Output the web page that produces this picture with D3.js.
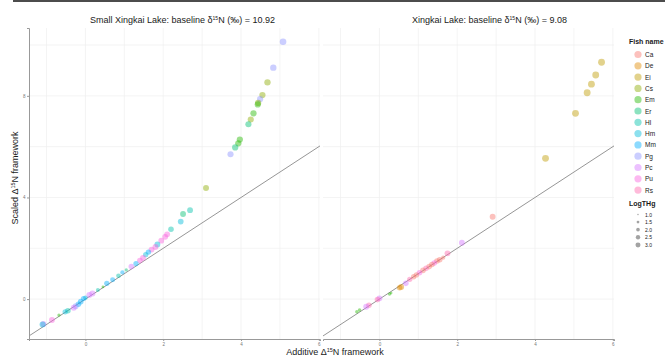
<!DOCTYPE html>
<html>
<head>
<meta charset="utf-8">
<script src="https://cdn.jsdelivr.net/npm/d3@7"></script>
<style>
  body { margin: 0; background: #fff; }
  svg { font-family: "Liberation Sans", Arial, sans-serif; }
</style>
</head>
<body>
<div id="chart"></div>
<script>
// fish codes in legend order, ggplot hue palette
const fishNames = ['Ca', 'De', 'Ei', 'Cs', 'Em', 'Er', 'Hl', 'Hm', 'Mm', 'Pg', 'Pc', 'Pu', 'Rs'];
const fishColors = ['#F8766D', '#E18A00', '#BE9C00', '#8CAB00', '#24B700', '#00BE70', '#00C1AB',
  '#00BBDA', '#00ACFC', '#8B93FF', '#D575FE', '#F962DD', '#FF65AC'];

const lakeTitles = ['Small Xingkai Lake', 'Xingkai Lake'];
const lakeBaselines = ['10.92', '9.08'];

// Small Xingkai Lake
const smallFish = ['Pg', 'Pg', 'Cs', 'Cs', 'Pg', 'Cs', 'Em', 'Em', 'Cs', 'Er', 'Em', 'Em', 'Er', 'Pg', 'Cs',
  'Hl', 'Er', 'Hm', 'Hl', 'Pu', 'Pu', 'Pu', 'Hm', 'Pu', 'Pu', 'Mm', 'Hm', 'Pu', 'Pu', 'Mm', 'Pc',
  'Er', 'Mm', 'Hl', 'Mm', 'Mm', 'Em', 'Hl', 'Pc', 'Pc', 'Hm', 'Mm', 'Mm', 'Mm', 'Pg', 'Pc', 'Hl',
  'Hm', 'Em', 'Pu', 'Pc', 'Hm'];
const smallAdditive = [5.08, 4.83, 4.68, 4.55, 4.49, 4.44, 4.43, 4.32, 4.25, 4.19, 3.97, 3.93, 3.85, 3.73, 3.10,
  2.69, 2.51, 2.45, 2.20, 2.10, 2.05, 1.95, 1.85, 1.80, 1.70, 1.62, 1.55, 1.48, 1.40, 1.30, 1.18,
  1.05, 0.95, 0.85, 0.70, 0.55, 0.45, 0.32, 0.18, 0.10, 0.00, -0.05, -0.12, -0.18, -0.25, -0.30, -0.45,
  -0.52, -0.68, -0.86, -1.08, -1.10];
const smallScaled = [10.13, 9.11, 8.53, 8.03, 7.87, 7.72, 7.66, 7.31, 7.07, 6.88, 6.28, 6.13, 5.97, 5.70, 4.37,
  3.50, 3.35, 3.05, 2.75, 2.55, 2.45, 2.30, 2.15, 2.05, 1.95, 1.85, 1.75, 1.62, 1.52, 1.40, 1.28,
  1.15, 1.05, 0.92, 0.76, 0.62, 0.48, 0.36, 0.22, 0.16, 0.05, 0.02, -0.10, -0.20, -0.28, -0.34, -0.46,
  -0.50, -0.63, -0.82, -0.98, -1.00];
const smallLogTHg = [3.6, 3.4, 3.4, 3.3, 3.2, 3.3, 3.3, 3.3, 3.2, 3.2, 3.3, 3.3, 3.3, 3.2, 3.1,
  3.0, 3.0, 2.9, 2.8, 3.0, 3.0, 2.9, 3.0, 3.0, 2.9, 2.7, 2.6, 2.9, 2.8, 2.6, 2.8,
  1.5, 2.0, 2.2, 2.4, 2.6, 1.3, 1.8, 3.2, 3.0, 2.2, 2.5, 2.8, 2.8, 3.0, 3.0, 2.8,
  2.6, 1.5, 3.0, 3.0, 3.2];

// Xingkai Lake
const bigFish = ['Ei', 'Ei', 'Ei', 'Ei', 'Ei', 'Ei', 'Ca', 'Pc', 'Rs', 'Ca', 'Ca', 'Ca', 'Pu', 'Ca', 'Ca',
  'Rs', 'Ca', 'Pu', 'Ca', 'Ca', 'Rs', 'Pc', 'De', 'De', 'Em', 'Em', 'Pc', 'Rs', 'Rs', 'Pc', 'Em', 'Em'];
const bigAdditive = [5.71, 5.56, 5.45, 5.34, 5.04, 4.27, 2.91, 2.12, 1.75, 1.64, 1.55, 1.48, 1.41, 1.35, 1.28,
  1.20, 1.12, 1.03, 0.95, 0.88, 0.78, 0.68, 0.56, 0.52, 0.30, 0.26, 0.00, -0.05, -0.27, -0.34, -0.51, -0.58];
const bigScaled = [9.32, 8.82, 8.46, 8.12, 7.31, 5.54, 3.24, 2.22, 1.80, 1.63, 1.55, 1.50, 1.42, 1.36, 1.28,
  1.21, 1.13, 1.04, 0.95, 0.88, 0.78, 0.62, 0.48, 0.45, 0.24, 0.20, 0.03, -0.02, -0.24, -0.30, -0.43, -0.50];
const bigLogTHg = [3.8, 3.8, 3.8, 3.8, 3.8, 3.8, 3.0, 3.0, 3.0, 2.0, 2.8, 2.8, 2.8, 2.8, 2.8,
  2.8, 2.8, 2.8, 2.6, 2.6, 2.6, 2.8, 3.0, 2.8, 1.3, 1.5, 3.0, 2.8, 2.8, 3.0, 1.6, 1.6];

const xTicks = [0, 2, 4, 6];
const yTicks = [0, 4, 8];
const sizeBreaks = [1.0, 1.5, 2.0, 2.5, 3.0];

const lakes = [
  { fish: smallFish, add: smallAdditive, scaled: smallScaled, hg: smallLogTHg },
  { fish: bigFish, add: bigAdditive, scaled: bigScaled, hg: bigLogTHg }
];

const svg = d3.select('#chart').append('svg')
  .attr('width', 665)
  .attr('height', 356);

svg.append('line')
  .attr('x1', 13).attr('x2', 665).attr('y1', 1).attr('y2', 1)
  .attr('stroke', '#111').attr('stroke-width', 1.5);

const color = d3.scaleOrdinal().domain(fishNames).range(fishColors);
const area = d3.scaleLinear().domain([1, 3]).range([0.7, 8.6]);
const radius = v => Math.sqrt(area(v));

const panelX = [[29, 320], [323, 614]];
const y = d3.scaleLinear().domain([-1.57, 10.67]).range([339, 28]);

lakes.forEach((lake, i) => {
  const x = d3.scaleLinear().domain([-1.45, 6.03]).range(panelX[i]);
  const g = svg.append('g');

  // grid
  g.selectAll('.vgrid')
    .data(d3.range(-1, 7))
    .enter().append('line')
    .attr('x1', d => x(d)).attr('x2', d => x(d))
    .attr('y1', y.range()[0]).attr('y2', y.range()[1])
    .attr('stroke', '#efefef').attr('stroke-width', 0.7);
  g.selectAll('.hgrid')
    .data(d3.range(0, 11, 2))
    .enter().append('line')
    .attr('x1', panelX[i][0]).attr('x2', panelX[i][1])
    .attr('y1', d => y(d)).attr('y2', d => y(d))
    .attr('stroke', '#efefef').attr('stroke-width', 0.7);

  // 1:1 line
  g.append('line')
    .attr('x1', x(-1.45)).attr('y1', y(-1.45))
    .attr('x2', x(6.03)).attr('y2', y(6.03))
    .attr('stroke', '#8a8a8a').attr('stroke-width', 0.9);

  const pts = lake.fish.map((f, k) => ({ fish: f, a: lake.add[k], s: lake.scaled[k], hg: lake.hg[k] }));
  g.selectAll('circle')
    .data(pts)
    .enter().append('circle')
    .attr('cx', d => x(d.a))
    .attr('cy', d => y(d.s))
    .attr('r', d => radius(d.hg))
    .attr('fill', d => color(d.fish))
    .attr('fill-opacity', 0.45);

  // x axis
  const xa = g.append('g')
    .attr('transform', 'translate(0,' + y.range()[0] + ')')
    .call(d3.axisBottom(x).tickValues(xTicks).tickSize(2).tickPadding(1.5));
  xa.select('.domain').attr('stroke', '#999').attr('stroke-width', 1);
  xa.selectAll('.tick line').attr('stroke', '#999');
  xa.selectAll('text').attr('font-size', 4.5).attr('fill', '#777');

  if (i === 0) {
    const ya = g.append('g')
      .attr('transform', 'translate(' + panelX[0][0] + ',0)')
      .call(d3.axisLeft(y).tickValues(yTicks).tickSize(2).tickPadding(1.5));
    ya.select('.domain').attr('stroke', '#999').attr('stroke-width', 1);
    ya.selectAll('.tick line').attr('stroke', '#999');
    ya.selectAll('text').attr('font-size', 4.5).attr('fill', '#777');
  }

  // title
  const t = svg.append('text')
    .attr('x', i === 0 ? 90 : 412)
    .attr('y', 23)
    .attr('font-size', 9)
    .attr('fill', '#1a1a1a');
  t.append('tspan').text(lakeTitles[i] + ': baseline δ');
  t.append('tspan').attr('font-size', 5).attr('dy', -3).text('15');
  t.append('tspan').attr('dy', 3).text('N (‰) =  ' + lakeBaselines[i]);
});

// axis titles
const xt = svg.append('text')
  .attr('x', 335).attr('y', 355)
  .attr('text-anchor', 'middle')
  .attr('font-size', 9).attr('fill', '#1a1a1a');
xt.append('tspan').text('Additive Δ');
xt.append('tspan').attr('font-size', 5.5).attr('dy', -3).text('15');
xt.append('tspan').attr('dy', 3).text('N framework');

const yt = svg.append('text')
  .attr('transform', 'translate(18,178) rotate(-90)')
  .attr('text-anchor', 'middle')
  .attr('font-size', 9).attr('fill', '#1a1a1a');
yt.append('tspan').text('Scaled Δ');
yt.append('tspan').attr('font-size', 5.5).attr('dy', -3).text('15');
yt.append('tspan').attr('dy', 3).text('N framework');

// legends
const leg = svg.append('g');
leg.append('text')
  .attr('x', 629).attr('y', 44)
  .attr('font-size', 7).attr('font-weight', 'bold').attr('fill', '#1a1a1a')
  .text('Fish name');
const items = leg.selectAll('.fish')
  .data(fishNames)
  .enter().append('g')
  .attr('transform', (d, k) => 'translate(0,' + (54.5 + k * 11.3) + ')');
items.append('circle')
  .attr('cx', 638).attr('r', 3.6)
  .attr('fill', d => color(d)).attr('fill-opacity', 0.45);
items.append('text')
  .attr('x', 645).attr('y', 2.5)
  .attr('font-size', 6.5).attr('fill', '#1a1a1a')
  .text(d => d);

leg.append('text')
  .attr('x', 629).attr('y', 206)
  .attr('font-size', 7).attr('font-weight', 'bold').attr('fill', '#1a1a1a')
  .text('LogTHg');
const sizes = leg.selectAll('.size')
  .data(sizeBreaks)
  .enter().append('g')
  .attr('transform', (d, k) => 'translate(0,' + (214.5 + k * 7.6) + ')');
sizes.append('circle')
  .attr('cx', 638).attr('r', d => radius(d) * 0.85)
  .attr('fill', '#333').attr('fill-opacity', 0.45);
sizes.append('text')
  .attr('x', 645).attr('y', 2)
  .attr('font-size', 5).attr('fill', '#1a1a1a')
  .text(d => d.toFixed(1));
</script>
</body>
</html>
